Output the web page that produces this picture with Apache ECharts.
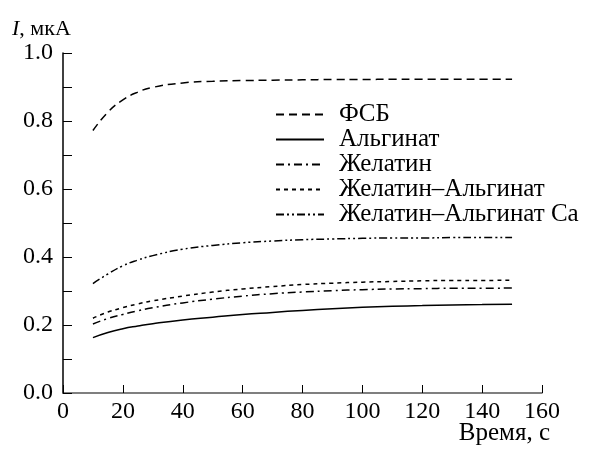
<!DOCTYPE html>
<html><head><meta charset="utf-8">
<script src="https://cdn.jsdelivr.net/npm/echarts@6/dist/echarts.min.js"></script>
<style>html,body{margin:0;padding:0;background:#fff}#c{width:593px;height:449px}</style>
</head><body><div id="c"></div>
<script>
const times = [10,15,20,25,30,40,50,60,70,80,90,100,110,120,130,140,150];
const names = ['ФСБ','Альгинат','Желатин','Желатин–Альгинат','Желатин–Альгинат Ca'];
const fsb = [0.772,0.826,0.862,0.885,0.899,0.912,0.917,0.919,0.920,0.921,0.922,0.922,0.923,0.923,0.923,0.923,0.923];
const alg = [0.163,0.178,0.189,0.197,0.204,0.215,0.223,0.231,0.237,0.243,0.248,0.252,0.255,0.257,0.259,0.260,0.261];
const gel = [0.203,0.219,0.231,0.242,0.251,0.265,0.276,0.285,0.292,0.297,0.301,0.304,0.306,0.307,0.308,0.308,0.309];
const gelAlg = [0.220,0.238,0.251,0.262,0.271,0.285,0.297,0.306,0.313,0.319,0.323,0.326,0.328,0.330,0.331,0.331,0.332];
const gelAlgCa = [0.322,0.350,0.374,0.391,0.404,0.423,0.434,0.442,0.447,0.451,0.453,0.455,0.456,0.456,0.457,0.457,0.457];
const xTicks = {min:0, max:160, interval:20};
const yTicks = {min:0, max:1.0, interval:0.1};

const values = [fsb, alg, gel, gelAlg, gelAlgCa];
const dashes = [[8,5],'solid',[8,4,2,4],[4,4],[8,3,2,3,2,3]];
const font = '"Liberation Serif","Times New Roman",serif';

const series = values.map((v,i)=>({
  name: names[i], type:'line', symbol:'none', smooth:true, animation:false,
  data: times.map((t,j)=>[t, v[j]]),
  lineStyle:{color:'#000', width:1.5, type:dashes[i]},
  itemStyle:{color:'#000'}
}));

const chart = echarts.init(document.getElementById('c'), null, {renderer:'canvas'});
chart.setOption({
  animation:false,
  backgroundColor:'#fff',
  grid:{left:63, right:51, top:53, bottom:56, containLabel:false},
  legend:{
    orient:'vertical', left:275, top:102, padding:0, itemWidth:48, itemHeight:22, itemGap:0,
    itemStyle:{opacity:0, color:'rgba(0,0,0,0)', borderWidth:0},
    textStyle:{fontFamily:font, fontSize:25, lineHeight:22, color:'#000', padding:[0,0,0,10]},
    data:names
  },
  xAxis:{
    type:'value', min:xTicks.min, max:xTicks.max, interval:xTicks.interval,
    axisLine:{lineStyle:{color:'#555', width:1.5}},
    axisTick:{inside:true, length:8, lineStyle:{color:'#000', width:1}},
    axisLabel:{fontFamily:font, fontSize:24, color:'#000', margin:7},
    splitLine:{show:false}
  },
  yAxis:{
    type:'value', min:yTicks.min, max:yTicks.max, interval:yTicks.interval,
    axisLine:{show:true, lineStyle:{color:'#000', width:1.5}},
    axisTick:{show:true, inside:true, length:9, lineStyle:{color:'#000', width:1}},
    axisLabel:{fontFamily:font, fontSize:24, color:'#000', margin:10,
      formatter:v=> (Math.round(v*10)%2===0 ? v.toFixed(1) : '')},
    splitLine:{show:false}
  },
  graphic:[
    {type:'text', left:12, top:18, style:{rich:{i:{fontFamily:font,fontSize:22,fontStyle:'italic',fill:'#000'}, n:{fontFamily:font,fontSize:22,fill:'#000'}}, text:'{i|I}{n|, мкА}'}},
    {type:'text', right:43, top:421, style:{text:'Время, с', fontFamily:font, fontSize:25, fill:'#000'}}
  ],
  series: series
});
</script></body></html>
